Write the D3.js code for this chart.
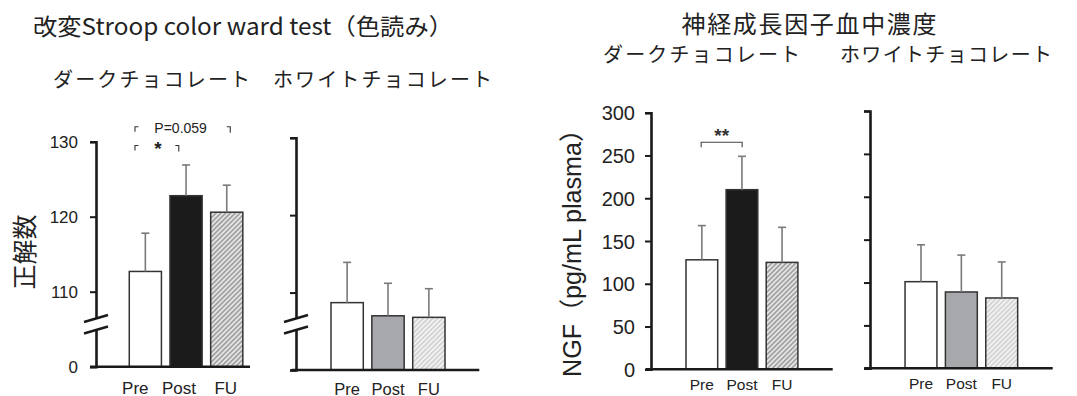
<!DOCTYPE html>
<html><head><meta charset="utf-8">
<script src="https://cdn.jsdelivr.net/npm/d3@7"></script>
<style>body{margin:0;background:#fff} svg{display:block}</style>
</head><body><svg id="c" width="1077" height="396"></svg>
<script>
// ---------- data ----------
const categories = ["Pre", "Post", "FU"];
const stroopDarkMean = [112.7, 122.8, 120.6];
const stroopDarkSD = [5.1, 4.1, 3.6];
const stroopWhiteMean = [108.7, 107.0, 106.8];
const stroopWhiteSD = [5.2, 4.2, 3.7];
const ngfDarkMean = [128, 210, 125];
const ngfDarkSD = [40, 39, 41];
const ngfWhiteMean = [101, 89, 82];
const ngfWhiteSD = [43, 43, 42];
const stroopTicks = [100, 110, 120, 130];
const stroopTickLabels = ["0", "110", "120", "130"];
const ngfTicks = [0, 50, 100, 150, 200, 250, 300];
const ngfTickLabels = ["0", "50", "100", "150", "200", "250", "300"];
const titles = ["改変Stroop color ward test（色読み）", "神経成長因子血中濃度"];
const groupLabels = ["ダークチョコレート", "ホワイトチョコレート"];
const yLabels = ["正解数", "NGF（pg/mL plasma）"];
const annotations = [
  {panel: 0, from: "Pre", to: "FU", level: 132, text: "P=0.059"},
  {panel: 0, from: "Pre", to: "Post", level: 129.5, text: "*"},
  {panel: 2, from: "Pre", to: "Post", level: 265.5, text: "**"}
];

// ---------- layout ----------
const svg = d3.select("#c");
const JP = "'Noto Sans CJK JP','Noto Sans',sans-serif";
const LAT = "'Liberation Sans',Arial,'Noto Sans CJK JP',sans-serif";

const defs = svg.append("defs");
function hatch(id, bg, fg) {
  const p = defs.append("pattern").attr("id", id).attr("patternUnits", "userSpaceOnUse")
    .attr("width", 3.4).attr("height", 3.4).attr("patternTransform", "rotate(45)");
  p.append("rect").attr("width", 3.4).attr("height", 3.4).attr("fill", bg);
  p.append("line").attr("x1", 0.8).attr("x2", 0.8).attr("y1", 0).attr("y2", 3.4)
    .attr("stroke", fg).attr("stroke-width", 1.5);
}
hatch("hatchDark", "#e4e4e4", "#9a9a9a");
hatch("hatchLight", "#f2f2f2", "#cfcfcf");

const panels = [
  {mean: stroopDarkMean, sd: stroopDarkSD, domain: [100, 130], ticks: stroopTicks, tickLabels: stroopTickLabels,
   yRange: [366.7, 141.7], axisX: 96, xRange: [125, 247.1], xLine: [90, 250], post: "#1b1b1b", hatch: "hatchDark",
   brk: true, tickFont: 17, tickPad: 12, catFont: 17, catY: 393.5, catOff: [-10, -7, -1], showLabels: true},
  {mean: stroopWhiteMean, sd: stroopWhiteSD, domain: [100, 130], ticks: stroopTicks, tickLabels: null,
   yRange: [370, 137.7], axisX: 296, xRange: [326.7, 449.3], xLine: [291.7, 479.3], post: "#a7a8ab", hatch: "hatchLight",
   brk: true, tickFont: 17, tickPad: 12, catFont: 16.5, catY: 394.5, catOff: [0, 0, 0], showLabels: false},
  {mean: ngfDarkMean, sd: ngfDarkSD, domain: [0, 300], ticks: ngfTicks, tickLabels: ngfTickLabels,
   yRange: [369.3, 112.7], axisX: 651, xRange: [681.8, 802.1], xLine: [646, 832.7], post: "#1b1b1b", hatch: "hatchDark",
   brk: false, tickFont: 20, tickPad: 10, catFont: 15.5, catY: 390, catOff: [0, 0, 0], showLabels: true},
  {mean: ngfWhiteMean, sd: ngfWhiteSD, domain: [0, 300], ticks: ngfTicks, tickLabels: null,
   yRange: [368.3, 111], axisX: 870, xRange: [900.8, 1021.9], xLine: [864.3, 1052.7], post: "#a7a8ab", hatch: "hatchLight",
   brk: false, tickFont: 20, tickPad: 10, catFont: 15.5, catY: 388.5, catOff: [0, 0, 0], showLabels: true}
];

const built = panels.map(p => {
  const y = d3.scaleLinear().domain(p.domain).range(p.yRange);
  const x = d3.scaleBand().domain(categories).range(p.xRange).paddingInner(0.21).paddingOuter(0.105);
  const g = svg.append("g");
  const fills = ["#ffffff", p.post, `url(#${p.hatch})`];
  const base = y(p.domain[0]);

  // bars
  g.selectAll("rect.bar").data(categories).join("rect").attr("class", "bar")
    .attr("x", d => x(d)).attr("width", x.bandwidth())
    .attr("y", (d, i) => y(p.mean[i])).attr("height", (d, i) => base - y(p.mean[i]))
    .attr("fill", (d, i) => fills[i]).attr("stroke", "#333").attr("stroke-width", 1.5);

  // error bars
  const eb = g.selectAll("g.err").data(categories).join("g").attr("class", "err");
  eb.append("line").attr("x1", d => x(d) + x.bandwidth() / 2).attr("x2", d => x(d) + x.bandwidth() / 2)
    .attr("y1", (d, i) => y(p.mean[i])).attr("y2", (d, i) => y(p.mean[i] + p.sd[i]))
    .attr("stroke", "#7a7a7a").attr("stroke-width", 1.6);
  eb.append("line").attr("x1", d => x(d) + x.bandwidth() / 2 - 4).attr("x2", d => x(d) + x.bandwidth() / 2 + 4)
    .attr("y1", (d, i) => y(p.mean[i] + p.sd[i])).attr("y2", (d, i) => y(p.mean[i] + p.sd[i]))
    .attr("stroke", "#7a7a7a").attr("stroke-width", 1.6);

  // y axis
  const ax = d3.axisLeft(y).tickValues(p.ticks).tickSizeOuter(0).tickSize(6).tickPadding(p.tickPad)
    .tickFormat((d, i) => p.tickLabels ? p.tickLabels[i] : "");
  const ag = g.append("g").attr("transform", `translate(${p.axisX},0)`).call(ax);
  ag.select(".domain").attr("stroke", "#1a1a1a").attr("stroke-width", 2.6);
  ag.selectAll(".tick line").attr("stroke", "#1a1a1a").attr("stroke-width", 2);
  ag.selectAll(".tick text").attr("font-family", LAT).attr("font-size", p.tickFont).attr("fill", "#222").attr("dy", "0.35em");

  // x axis line
  g.append("line").attr("x1", p.xLine[0]).attr("x2", p.xLine[1]).attr("y1", base).attr("y2", base)
    .attr("stroke", "#1a1a1a").attr("stroke-width", 2.6);

  // break marks
  if (p.brk) {
    g.append("rect").attr("x", p.axisX - 3).attr("y", 319).attr("width", 6).attr("height", 11).attr("fill", "#fff");
    [318.5, 330].forEach(cy => {
      g.append("line").attr("x1", p.axisX - 12).attr("x2", p.axisX + 12)
        .attr("y1", cy + 3.5).attr("y2", cy - 3.5).attr("stroke", "#1a1a1a").attr("stroke-width", 2.4);
    });
  }

  // category labels
  g.selectAll("text.cat").data(categories).join("text").attr("class", "cat")
    .attr("x", (d, i) => x(d) + x.bandwidth() / 2 + p.catOff[i]).attr("y", p.catY)
    .attr("text-anchor", "middle").attr("font-family", LAT).attr("font-size", p.catFont).attr("fill", "#222")
    .text(d => d);
  return {x, y, g};
});

// annotations (significance brackets)
annotations.forEach(a => {
  const {x, y, g} = built[a.panel];
  const yy = y(a.level);
  if (a.panel === 0) {
    const x1 = x(a.from) + 5.7;
    const x2 = a.to === "FU" ? x(a.to) + x.bandwidth() / 2 + 3.5 : x(a.to) + 8.8;
    const path = `M${x1},${yy + 5}V${yy}H${x1 + 3.5} M${x2 - 3.5},${yy}H${x2}V${yy + 6}`;
    g.append("path").attr("d", path).attr("fill", "none").attr("stroke", "#333").attr("stroke-width", 1.1);
    if (a.text === "*") {
      g.append("text").attr("x", (x1 + x2) / 2 + 1).attr("y", yy + 10).attr("text-anchor", "middle")
        .attr("font-family", LAT).attr("font-size", 19).attr("font-weight", "bold").attr("fill", "#222").text(a.text);
    } else {
      g.append("text").attr("x", (x1 + x2) / 2 - 2).attr("y", yy + 6.5).attr("text-anchor", "middle")
        .attr("font-family", LAT).attr("font-size", 14).attr("fill", "#222").text(a.text);
    }
  } else {
    const x1 = x(a.from) + x.bandwidth() / 2 - 0.7;
    const x2 = x(a.to) + x.bandwidth() / 2 + 0.2;
    g.append("path").attr("d", `M${x1},${yy + 5}V${yy}H${x2}V${yy + 5}`).attr("fill", "none")
      .attr("stroke", "#444").attr("stroke-width", 1.1);
    g.append("text").attr("x", (x1 + x2) / 2).attr("y", yy - 0.5).attr("text-anchor", "middle")
      .attr("font-family", LAT).attr("font-size", 19).attr("font-weight", "bold").attr("fill", "#333").text(a.text);
  }
});

// titles
svg.append("text").attr("x", 33).attr("y", 25).attr("dominant-baseline", "central")
  .attr("font-family", JP).attr("font-size", 23).attr("fill", "#222")
  .attr("textLength", 420).attr("lengthAdjust", "spacingAndGlyphs").text(titles[0]);
svg.append("text").attr("x", 681.5).attr("y", 22).attr("dominant-baseline", "central")
  .attr("font-family", JP).attr("font-size", 24).attr("fill", "#222")
  .attr("textLength", 255).attr("lengthAdjust", "spacing").text(titles[1]);

// group labels
[[53, 78, 197, 0], [273, 78, 219, 1], [603, 53, 197, 0], [840, 53, 212, 1]].forEach(([gx, gy, len, k]) => {
  svg.append("text").attr("x", gx).attr("y", gy).attr("dominant-baseline", "central")
    .attr("font-family", JP).attr("font-size", 20).attr("fill", "#222")
    .attr("textLength", len).attr("lengthAdjust", "spacing").text(groupLabels[k]);
});

// y labels
svg.append("text").attr("transform", "translate(23,252) rotate(-90)").attr("text-anchor", "middle")
  .attr("dominant-baseline", "central").attr("font-family", JP).attr("font-size", 25).attr("fill", "#222")
  .text(yLabels[0]);
svg.append("text").attr("transform", "translate(572,247) rotate(-90)").attr("text-anchor", "middle")
  .attr("dominant-baseline", "central").attr("font-family", LAT).attr("font-size", 25).attr("fill", "#222")
  .attr("textLength", 260).attr("lengthAdjust", "spacingAndGlyphs").text(yLabels[1]);
</script>
</body></html>
